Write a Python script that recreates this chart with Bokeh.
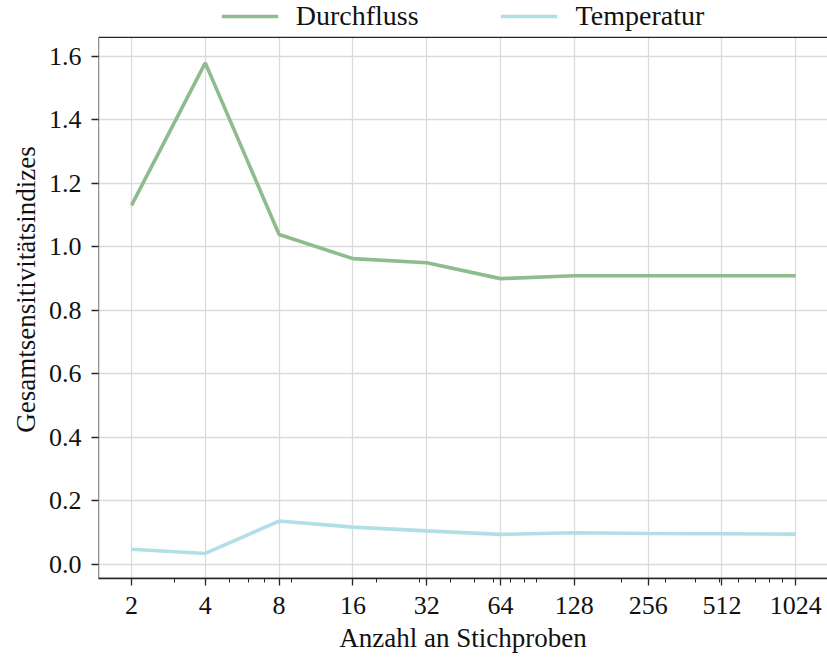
from bokeh.plotting import figure
from bokeh.models import (FixedTicker, Legend, LegendItem, BoxAnnotation,
                          PrintfTickFormatter, Range1d, ColumnDataSource)
from bokeh.embed import file_html
from bokeh.resources import INLINE

# Number of samples (log2 axis) and total sensitivity indices per input
samples = [2, 4, 8, 16, 32, 64, 128, 256, 512, 1024]
durchfluss = [1.131, 1.580, 1.039, 0.963, 0.950, 0.900, 0.909, 0.909, 0.909, 0.909]
temperatur = [0.047, 0.034, 0.136, 0.117, 0.105, 0.094, 0.099, 0.097, 0.096, 0.095]

x_tick_labels = ["2", "4", "8", "16", "32", "64", "128", "256", "512", "1024"]
y_ticks = [0.0, 0.2, 0.4, 0.6, 0.8, 1.0, 1.2, 1.4, 1.6]

# minor ticks in decade steps (2..9, 20..90, 200..900), skipping major positions
minor_x = [m * d for d in (1, 10, 100) for m in range(2, 10)
           if m * d not in samples]

FONT = "Liberation Serif"
GREEN = "#8fbc8f"
BLUE = "#b0e0e6"
DARK = "#262626"
TEXT = "#111111"

# axes box limits; the band above Y_TOP holds the legend
X_MIN, X_MAX = 2 ** 0.553, 2 ** 10.43
Y_MIN, Y_TOP, Y_CANVAS = -0.045, 1.66, 1.7765

source = ColumnDataSource(dict(n=samples, d=durchfluss, t=temperatur))

p = figure(width=827, height=660, x_axis_type="log",
           x_range=Range1d(X_MIN, X_MAX),
           y_range=Range1d(Y_MIN, Y_CANVAS),
           output_backend="svg", toolbar_location=None,
           min_border_left=98, min_border_right=0,
           min_border_top=0, min_border_bottom=82)
p.outline_line_color = None
p.background_fill_color = "white"
p.border_fill_color = "white"

r1 = p.line("n", "d", source=source, line_color=GREEN, line_width=3.6)
r2 = p.line("n", "t", source=source, line_color=BLUE, line_width=3.6)

# axes
xa = p.xaxis[0]
xa.ticker = FixedTicker(ticks=samples, minor_ticks=minor_x)
xa.major_label_overrides = {s: lab for s, lab in zip(samples, x_tick_labels)}
xa.axis_label = "Anzahl an Stichproben"

ya = p.yaxis[0]
ya.ticker = FixedTicker(ticks=y_ticks, minor_ticks=[])
ya.formatter = PrintfTickFormatter(format="%.1f")
ya.axis_label = "Gesamtsensitivitätsindizes"

for ax in (xa, ya):
    ax.axis_line_color = DARK
    ax.axis_line_width = 1.3
    ax.major_tick_line_color = DARK
    ax.major_tick_line_width = 1.3
    ax.major_tick_out = 7
    ax.major_tick_in = 0
    ax.minor_tick_line_color = DARK
    ax.minor_tick_line_width = 1.0
    ax.minor_tick_out = 4
    ax.minor_tick_in = 0
    ax.major_label_text_font = FONT
    ax.major_label_text_font_size = "26px"
    ax.major_label_text_color = TEXT
    ax.axis_label_text_font = FONT
    ax.axis_label_text_font_size = "27px"
    ax.axis_label_text_font_style = "normal"
    ax.axis_label_text_color = TEXT

ya.axis_line_color = None          # left spine comes from the box below
xa.major_label_standoff = 11
xa.axis_label_standoff = 6
ya.major_label_standoff = 10
ya.axis_label_standoff = 5

# grid
p.xgrid.ticker = FixedTicker(ticks=samples)
p.ygrid.ticker = FixedTicker(ticks=y_ticks)
for g in (p.xgrid[0], p.ygrid[0]):
    g.grid_line_color = "#dadada"
    g.grid_line_width = 1.3

# white band above the axes box (hides grid lines there)
p.add_layout(BoxAnnotation(bottom=Y_TOP, fill_color="white", fill_alpha=1.0,
                           line_color=None))
# axes box: left, top and bottom spines
p.add_layout(BoxAnnotation(left=X_MIN, right=X_MAX * 2, bottom=Y_MIN, top=Y_TOP,
                           fill_alpha=0, line_color=DARK, line_alpha=1.0,
                           line_width=1.3))

legend = Legend(items=[LegendItem(label="Durchfluss", renderers=[r1]),
                       LegendItem(label="Temperatur", renderers=[r2])],
                orientation="horizontal", location="top_center",
                border_line_color=None, background_fill_alpha=0,
                label_text_font=FONT, label_text_font_size="28px",
                label_text_color=TEXT,
                glyph_width=57, glyph_height=20, label_standoff=18,
                spacing=82, padding=5, margin=0)
p.add_layout(legend, "center")

open("out.html", "w").write(file_html(p, INLINE))
